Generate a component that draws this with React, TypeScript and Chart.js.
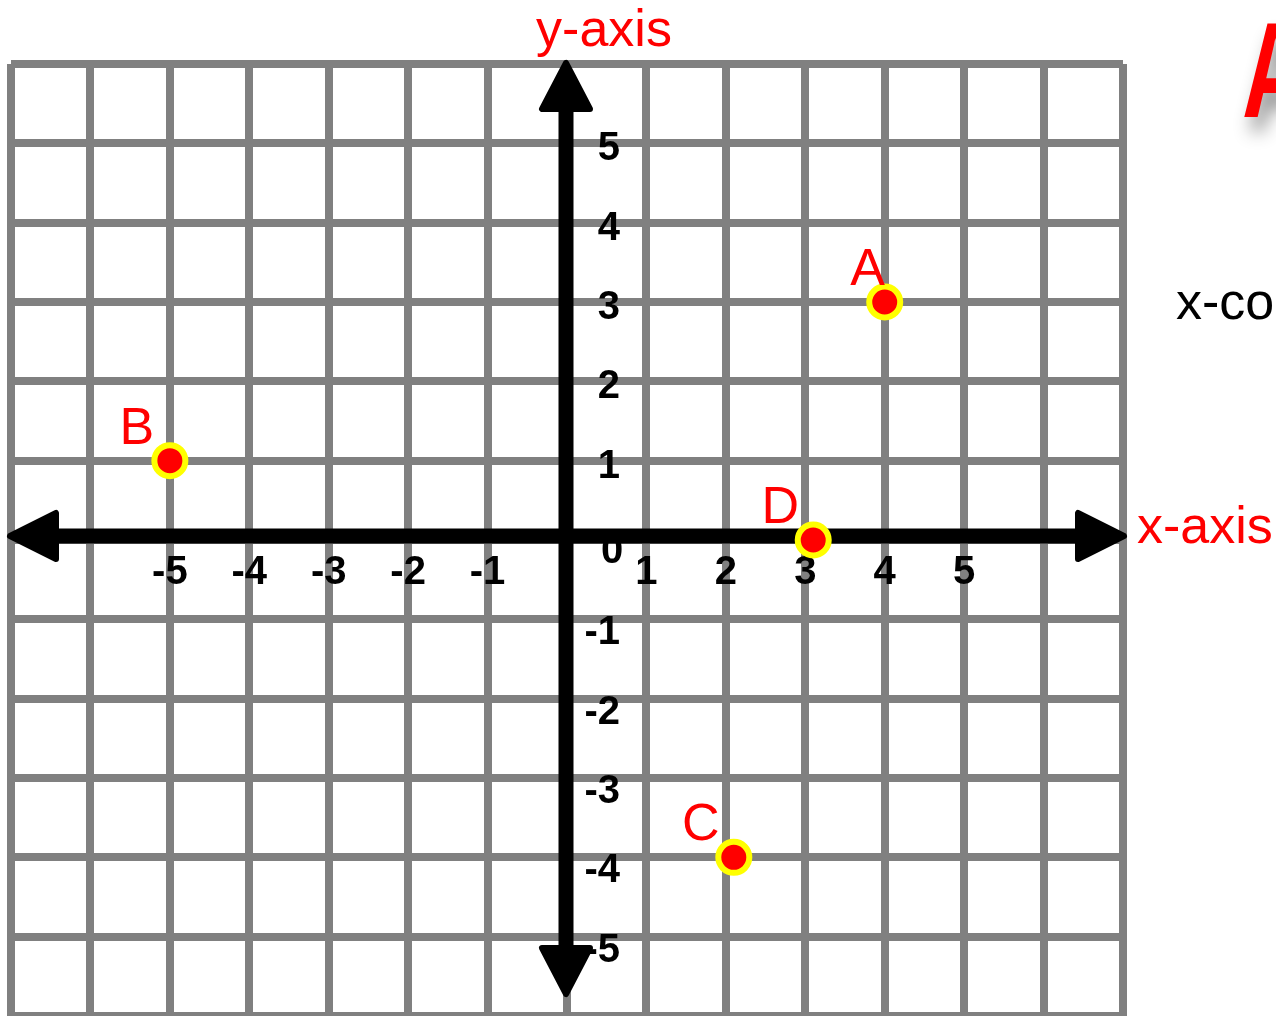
import React, { useEffect, useRef } from "react";
import { Chart, registerables } from "chart.js";

Chart.register(...registerables);

// ---- data ----
const pointNames = ["A", "B", "C", "D"];
const pointX = [4, -5, 2.1, 3.1];
const pointY = [3, 1, -4, 0];
const xTickLabels = [-5, -4, -3, -2, -1, 1, 2, 3, 4, 5];
const yTickLabels = [5, 4, 3, 2, 1, -1, -2, -3, -4, -5];
const xRange = [-7, 7];
const yRange = [-6, 6];
const xTitle = "x-axis";
const yTitle = "y-axis";
const sideText = "x-coordinate";
const cornerGlyph = "A";

const FONT = '"Liberation Sans", Arial, Helvetica, sans-serif';

const planePlugin = {
  id: "plane",
  beforeDatasetsDraw(chart: any) {
    const ctx = chart.ctx;
    const xs = chart.scales.x;
    const ys = chart.scales.y;
    const x0 = xs.getPixelForValue(0);
    const y0 = ys.getPixelForValue(0);
    ctx.save();
    // tick labels
    ctx.fillStyle = "#000";
    ctx.font = `bold 40px ${FONT}`;
    ctx.textBaseline = "alphabetic";
    ctx.textAlign = "center";
    xTickLabels.forEach((v) => ctx.fillText(String(v), xs.getPixelForValue(v), y0 + 44));
    ctx.fillText("0", x0 + 45, y0 + 23);
    ctx.textAlign = "right";
    yTickLabels.forEach((v) =>
      ctx.fillText(String(v), x0 + 53, ys.getPixelForValue(v) + (v < 0 ? 25 : 17))
    );

    // axes with arrows
    const left = xs.getPixelForValue(xRange[0]) - 4;
    const right = xs.getPixelForValue(xRange[1]) + 4;
    const top = ys.getPixelForValue(yRange[1]) - 4;
    const bottom = ys.getPixelForValue(yRange[0]) - 19;
    const ax = x0 - 1;
    const ay = y0 - 4;
    const L = 52;
    const H = 26;
    const r = 3;
    ctx.strokeStyle = "#000";
    ctx.lineWidth = 15;
    ctx.lineCap = "butt";
    ctx.beginPath();
    ctx.moveTo(left + L - 6, ay);
    ctx.lineTo(right - L + 6, ay);
    ctx.moveTo(ax, top + L - 6);
    ctx.lineTo(ax, bottom - L + 6);
    ctx.stroke();

    ctx.lineWidth = 2 * r;
    ctx.lineJoin = "round";
    const tri = (p: number[][]) => {
      ctx.beginPath();
      ctx.moveTo(p[0][0], p[0][1]);
      ctx.lineTo(p[1][0], p[1][1]);
      ctx.lineTo(p[2][0], p[2][1]);
      ctx.closePath();
      ctx.fill();
      ctx.stroke();
    };
    tri([[left + r, ay], [left + L - r, ay - H + r], [left + L - r, ay + H - r]]);
    tri([[right - r, ay], [right - L + r, ay - H + r], [right - L + r, ay + H - r]]);
    tri([[ax, top + r], [ax - H - 1 + r, top + L - r], [ax + H + 1 - r, top + L - r]]);
    tri([[ax, bottom - r], [ax - H - 1 + r, bottom - L + r], [ax + H + 1 - r, bottom - L + r]]);
    ctx.restore();
  },
  afterDatasetsDraw(chart: any) {
    const ctx = chart.ctx;
    const xs = chart.scales.x;
    const ys = chart.scales.y;
    const x0 = xs.getPixelForValue(0);
    const y0 = ys.getPixelForValue(0);
    const meta = chart.getDatasetMeta(0);
    ctx.save();
    // point names
    ctx.fillStyle = "#ff0000";
    ctx.font = `52px ${FONT}`;
    ctx.textAlign = "center";
    ctx.textBaseline = "alphabetic";
    pointNames.forEach((name, i) => {
      const el = meta.data[i];
      const dx = name === "A" ? -17 : -33;
      ctx.fillText(name, el.x + dx, el.y - 17);
    });
    // axis titles
    ctx.fillText(yTitle, x0 + 37, ys.getPixelForValue(yRange[1]) - 18);
    ctx.textAlign = "left";
    ctx.fillText(xTitle, xs.getPixelForValue(xRange[1]) + 14, y0 + 3);
    // side text
    ctx.fillStyle = "#000";
    ctx.fillText(sideText, xs.getPixelForValue(xRange[1]) + 53, ys.getPixelForValue(3) + 17);
    // corner glyph
    ctx.save();
    ctx.translate(chart.width - 34, ys.getPixelForValue(yRange[1]) + 53);
    ctx.scale(0.68, 1);
    ctx.shadowColor = "rgba(0,0,0,0.45)";
    ctx.shadowBlur = 18;
    ctx.shadowOffsetX = 6;
    ctx.shadowOffsetY = 14;
    ctx.fillStyle = "#ff0000";
    ctx.font = `bold 136px ${FONT}`;
    ctx.textAlign = "left";
    ctx.fillText(cornerGlyph, 0, 0);
    ctx.restore();
    ctx.restore();
  },
};

export default function App() {
  const ref = useRef<HTMLCanvasElement | null>(null);
  useEffect(() => {
    document.body.style.margin = "0";
    const canvas = ref.current;
    if (!canvas) return;
    const chart = new Chart(canvas, {
      type: "scatter",
      data: {
        datasets: [
          {
            data: pointX.map((x, i) => ({ x, y: pointY[i] })),
            backgroundColor: "#ff0000",
            borderColor: "#ffff00",
            pointBackgroundColor: "#ff0000",
            pointBorderColor: "#ffff00",
            pointRadius: 15.5,
            pointHoverRadius: 15.5,
            pointBorderWidth: 6,
            borderWidth: 6,
            clip: false,
          } as any,
        ],
      },
      options: {
        animation: false,
        responsive: false,
        devicePixelRatio: 1,
        events: [],
        layout: { autoPadding: false, padding: { left: 11, right: 153, top: 64, bottom: 0 } },
        plugins: { legend: { display: false }, tooltip: { enabled: false } },
        scales: {
          x: {
            type: "linear",
            min: xRange[0],
            max: xRange[1],
            ticks: { display: false, stepSize: 1 },
            grid: { color: "#808080", lineWidth: 8, drawTicks: false },
            border: { display: false },
          },
          y: {
            type: "linear",
            min: yRange[0],
            max: yRange[1],
            ticks: { display: false, stepSize: 1 },
            grid: { color: "#808080", lineWidth: 8, drawTicks: false },
            border: { display: false },
          },
        },
      } as any,
      plugins: [planePlugin],
    });
    return () => chart.destroy();
  }, []);
  return (
    <div style={{ width: 1276, height: 1016, overflow: "hidden", background: "#fff" }}>
      <canvas ref={ref} width={1276} height={1016} style={{ display: "block" }} />
    </div>
  );
}
